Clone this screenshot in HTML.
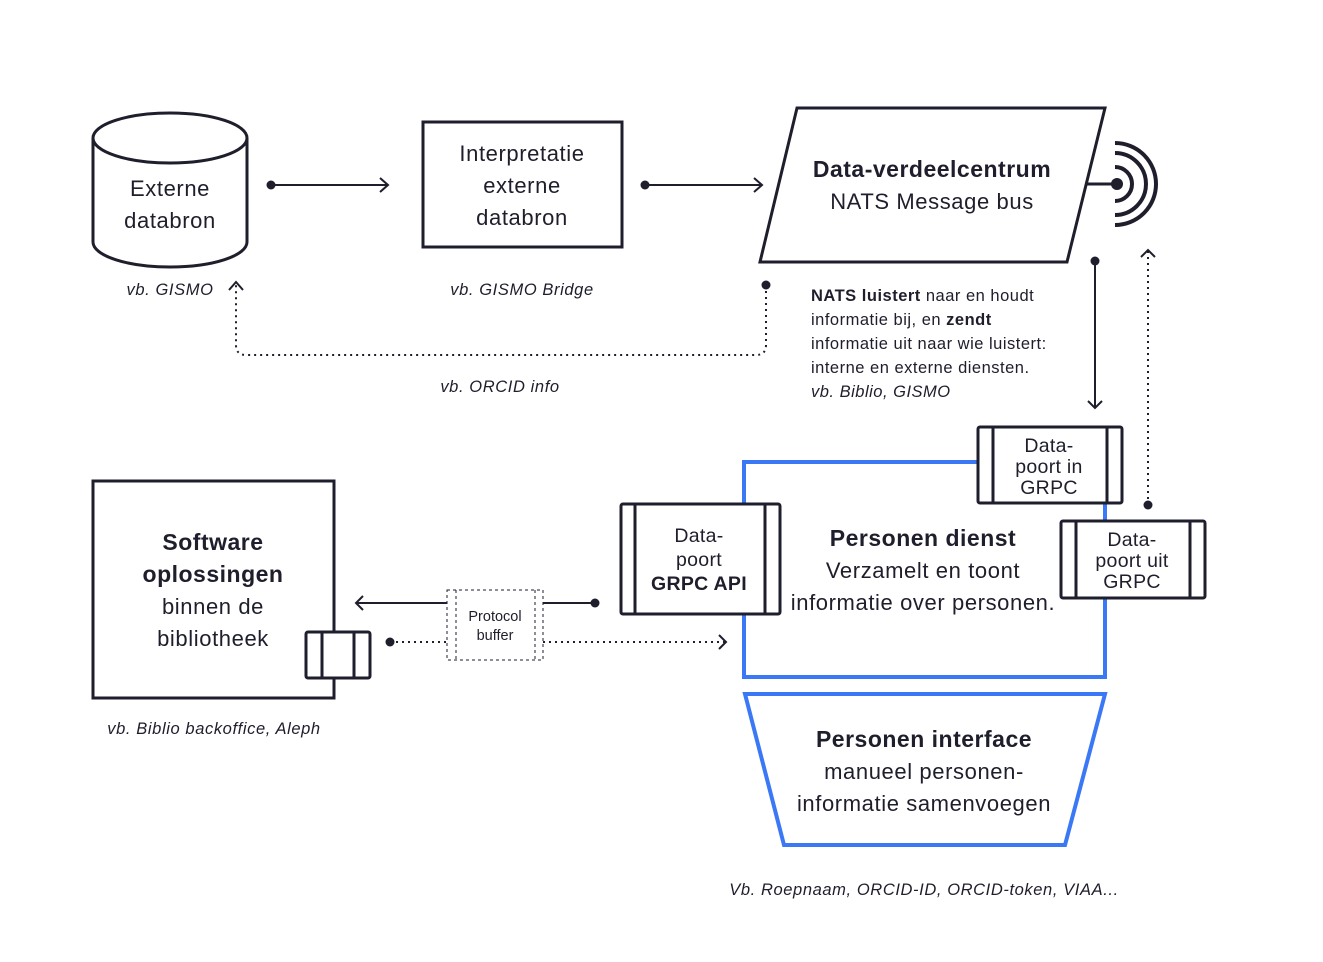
<!DOCTYPE html>
<html><head><meta charset="utf-8"><style>
html,body{margin:0;padding:0;background:#fff}
svg{display:block}
text{font-family:"Liberation Sans",sans-serif;fill:#1e1e2c}
.m{font-size:22px;letter-spacing:0.6px}
.b{font-size:23px;letter-spacing:0.5px;font-weight:bold}
.p{font-size:19.5px;letter-spacing:0.3px}
.c{font-size:16.5px;letter-spacing:0.6px;font-style:italic}
.n{font-size:16.5px;letter-spacing:0.5px}
</style></head><body>
<svg width="1323" height="962" viewBox="0 0 1323 962" xmlns="http://www.w3.org/2000/svg">
<g fill="none" stroke="#1e1e2c" stroke-width="3">
<path d="M93 138 V242 A77 25 0 0 0 247 242 V138"/>
<ellipse cx="170" cy="138" rx="77" ry="25"/>
<rect x="423" y="122" width="199" height="125"/>
<polygon points="797,108 1105,108 1067,262 760,262"/>
</g>
<g fill="none" stroke="#1e1e2c" stroke-width="4">
<path d="M1115 167 A17 17 0 0 1 1115 201"/>
<path d="M1115 153 A31 31 0 0 1 1115 215"/>
<path d="M1115 143 A41 41 0 0 1 1115 225"/>
</g>
<g stroke="#1e1e2c" stroke-width="2" fill="none">
<line x1="1086" y1="184" x2="1117" y2="184" stroke-width="3"/>
<line x1="271" y1="185" x2="388" y2="185"/><path d="M380 178 L388 185 L380 192"/>
<line x1="645" y1="185" x2="762" y2="185"/><path d="M754 178 L762 185 L754 192"/>
<path d="M766 285 V345 Q766 355 756 355 H246 Q236 355 236 345 V282" stroke-dasharray="2 4"/>
<path d="M229 290 L236 282 L243 290"/>
<line x1="1095" y1="261" x2="1095" y2="408"/><path d="M1088 401 L1095 408 L1102 401"/>
<line x1="1148" y1="505" x2="1148" y2="250" stroke-dasharray="2 4"/><path d="M1141 257 L1148 250 L1155 257"/>
<line x1="595" y1="603" x2="543" y2="603"/>
<line x1="447" y1="603" x2="356" y2="603"/><path d="M363 596 L356 603 L363 610"/>
<line x1="390" y1="642" x2="447" y2="642" stroke-dasharray="2 4"/>
<line x1="543" y1="642" x2="726" y2="642" stroke-dasharray="2 4"/><path d="M719 635 L726 642 L719 649"/>
<rect x="447" y="590" width="96" height="70" stroke-width="1" stroke-dasharray="3 3"/>
<line x1="456" y1="590" x2="456" y2="660" stroke-width="1" stroke-dasharray="3 3"/>
<line x1="535" y1="590" x2="535" y2="660" stroke-width="1" stroke-dasharray="3 3"/>
</g>
<g fill="#1e1e2c">
<circle cx="271" cy="185" r="4.5"/><circle cx="645" cy="185" r="4.5"/>
<circle cx="1117" cy="184" r="6"/><circle cx="766" cy="285" r="4.5"/>
<circle cx="1095" cy="261" r="4.5"/><circle cx="1148" cy="505" r="4.5"/>
<circle cx="595" cy="603" r="4.5"/><circle cx="390" cy="642" r="4.5"/>
</g>
<g fill="none" stroke="#3b78f6" stroke-width="4">
<rect x="744" y="462" width="361" height="215"/>
<polygon points="745,694 1105,694 1065,845 784,845"/>
</g>
<g fill="#fff" stroke="#1e1e2c" stroke-width="3">
<rect x="978" y="427" width="144" height="76" rx="2"/>
<line x1="993" y1="427" x2="993" y2="503"/><line x1="1107" y1="427" x2="1107" y2="503"/>
<rect x="1061" y="521" width="144" height="77" rx="2"/>
<line x1="1076" y1="521" x2="1076" y2="598"/><line x1="1190" y1="521" x2="1190" y2="598"/>
<rect x="621" y="504" width="159" height="110" rx="2"/>
<line x1="635" y1="504" x2="635" y2="614"/><line x1="765" y1="504" x2="765" y2="614"/>
<rect x="93" y="481" width="241" height="217"/>
<rect x="306" y="632" width="64" height="46" rx="2"/>
<line x1="322" y1="632" x2="322" y2="678"/><line x1="354" y1="632" x2="354" y2="678"/>
</g>
<g text-anchor="middle">
<text class="m" x="170" y="196">Externe</text><text class="m" x="170" y="228">databron</text>
<text class="m" x="522" y="161">Interpretatie</text><text class="m" x="522" y="193">externe</text><text class="m" x="522" y="225">databron</text>
<text class="b" x="932" y="177">Data-verdeelcentrum</text>
<text class="m" x="932" y="209">NATS Message bus</text>
<text class="b" x="923" y="546">Personen dienst</text>
<text class="m" x="923" y="578">Verzamelt en toont</text><text class="m" x="923" y="610">informatie over personen.</text>
<text class="b" x="924" y="747">Personen interface</text>
<text class="m" x="924" y="779">manueel personen-</text><text class="m" x="924" y="811">informatie samenvoegen</text>
<text class="b" x="213" y="550">Software</text>
<text class="b" x="213" y="582">oplossingen</text>
<text class="m" x="213" y="614">binnen de</text><text class="m" x="213" y="646">bibliotheek</text>
<text class="p" x="1049" y="452">Data-</text><text class="p" x="1049" y="473">poort in</text><text class="p" x="1049" y="494">GRPC</text>
<text class="p" x="1132" y="546">Data-</text><text class="p" x="1132" y="567">poort uit</text><text class="p" x="1132" y="588">GRPC</text>
<text class="p" x="699" y="542">Data-</text><text class="p" x="699" y="566">poort</text>
<text class="p" x="699" y="590" font-weight="bold">GRPC API</text>
<text x="495" y="621" font-size="14.5">Protocol</text><text x="495" y="640" font-size="14.5">buffer</text>
<text class="c" x="170" y="295">vb. GISMO</text>
<text class="c" x="522" y="295">vb. GISMO Bridge</text>
<text class="c" x="500" y="392">vb. ORCID info</text>
<text class="c" x="214" y="734">vb. Biblio backoffice, Aleph</text>
<text class="c" x="924" y="895">Vb. Roepnaam, ORCID-ID, ORCID-token, VIAA...</text>
</g>
<g>
<text class="n" x="811" y="301"><tspan font-weight="bold">NATS luistert</tspan> naar en houdt</text>
<text class="n" x="811" y="325">informatie bij, en <tspan font-weight="bold">zendt</tspan></text>
<text class="n" x="811" y="349">informatie uit naar wie luistert:</text>
<text class="n" x="811" y="373">interne en externe diensten.</text>
<text class="n" x="811" y="397" font-style="italic">vb. Biblio, GISMO</text>
</g>
</svg>
</body></html>
